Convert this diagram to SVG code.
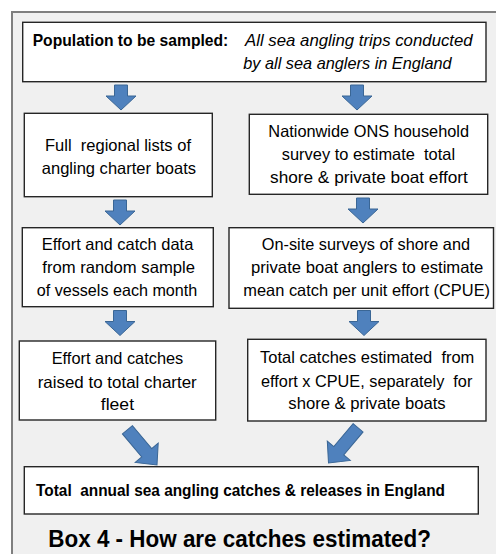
<svg xmlns="http://www.w3.org/2000/svg" xmlns:xlink="http://www.w3.org/1999/xlink" width="496" height="554" viewBox="0 0 496 554">
<style>
.box{fill:#ffffff;stroke:#262626;stroke-width:1.4}
.t{font-family:"Liberation Sans",Arial,sans-serif;font-size:16.5px;fill:#000;text-anchor:middle;white-space:pre}
.ts{font-family:"Liberation Sans",Arial,sans-serif;font-size:16.5px;fill:#000;white-space:pre}
.b{font-weight:bold}
.i{font-style:italic}
.arrow{fill:#4f81bd;stroke:#3a6695;stroke-width:1}
</style>
<defs>
<path id="adown" d="M-6.5,0 H6.5 V11 H15 L0,25 L-15,11 H-6.5 Z"/>
<path id="adiag" d="M-6.5,-46 H6.5 V-16 H15 L0,0 L-15,-16 H-6.5 Z"/>
</defs>
<rect x="0" y="0" width="496" height="554" fill="#ffffff"/>
<rect x="12" y="12" width="500" height="560" fill="#f0f0f0" stroke="#7f7f7f" stroke-width="2"/>

<g id="connectors">
<use xlink:href="#adown" class="arrow" transform="translate(121,85)"/>
<use xlink:href="#adown" class="arrow" transform="translate(357,85)"/>
<use xlink:href="#adown" class="arrow" transform="translate(120,200)"/>
<use xlink:href="#adown" class="arrow" transform="translate(363,198)"/>
<use xlink:href="#adown" class="arrow" transform="translate(120,310.5)"/>
<use xlink:href="#adown" class="arrow" transform="translate(364,310.5)"/>
<use xlink:href="#adiag" class="arrow" transform="translate(157,465) rotate(-40)"/>
<use xlink:href="#adiag" class="arrow" transform="translate(328.5,463) rotate(40)"/>
</g>

<g id="population">
<rect class="box" x="22.7" y="22.3" width="463.3" height="59.4"/>
<text class="ts b" x="32.7" y="45.7" textLength="195.6" lengthAdjust="spacingAndGlyphs">Population to be sampled:</text>
<text class="ts i" x="245" y="45.7" textLength="227.7" lengthAdjust="spacingAndGlyphs">All sea angling trips conducted</text>
<text class="ts i" x="243.3" y="69" textLength="208.4" lengthAdjust="spacingAndGlyphs">by all sea anglers in England</text>
</g>

<g id="charter-lists">
<rect class="box" x="24.3" y="113.3" width="188" height="83.4"/>
<text class="t" x="118" y="151" textLength="146" lengthAdjust="spacingAndGlyphs">Full  regional lists of</text>
<text class="t" x="118.9" y="173.5" textLength="154.3" lengthAdjust="spacingAndGlyphs">angling charter boats</text>
</g>

<g id="ons-survey">
<rect class="box" x="249.3" y="114.3" width="238.4" height="80"/>
<text class="t" x="368.7" y="137.3" textLength="200.7" lengthAdjust="spacingAndGlyphs">Nationwide ONS household</text>
<text class="t" x="368.4" y="160" textLength="173.3" lengthAdjust="spacingAndGlyphs">survey to estimate  total</text>
<text class="t" x="368.9" y="182.7" textLength="197.7" lengthAdjust="spacingAndGlyphs">shore &amp; private boat effort</text>
</g>

<g id="charter-sample">
<rect class="box" x="22.3" y="227.7" width="191" height="79"/>
<text class="t" x="117.5" y="250" textLength="151.6" lengthAdjust="spacingAndGlyphs">Effort and catch data</text>
<text class="t" x="118.7" y="273.3" textLength="152.7" lengthAdjust="spacingAndGlyphs">from random sample</text>
<text class="t" x="117" y="295.7" textLength="160.6" lengthAdjust="spacingAndGlyphs">of vessels each month</text>
</g>

<g id="onsite-survey">
<rect class="box" x="229" y="227.7" width="264.5" height="80.6"/>
<text class="t" x="365.9" y="250" textLength="208.3" lengthAdjust="spacingAndGlyphs">On-site surveys of shore and</text>
<text class="t" x="367.2" y="273.3" textLength="232.3" lengthAdjust="spacingAndGlyphs">private boat anglers to estimate</text>
<text class="t" x="366.7" y="295.7" textLength="246.7" lengthAdjust="spacingAndGlyphs">mean catch per unit effort (CPUE)</text>
</g>

<g id="charter-raised">
<rect class="box" x="19.3" y="341" width="196.4" height="79"/>
<text class="t" x="117.5" y="364.3" textLength="131.6" lengthAdjust="spacingAndGlyphs">Effort and catches</text>
<text class="t" x="117.2" y="387.7" textLength="159" lengthAdjust="spacingAndGlyphs">raised to total charter</text>
<text class="t" x="117.4" y="410" textLength="33.3" lengthAdjust="spacingAndGlyphs">fleet</text>
</g>

<g id="total-catches">
<rect class="box" x="247.7" y="339.3" width="238.3" height="81.7"/>
<text class="t" x="367.2" y="363.3" textLength="214.3" lengthAdjust="spacingAndGlyphs">Total catches estimated  from</text>
<text class="t" x="366.7" y="386.7" textLength="211.3" lengthAdjust="spacingAndGlyphs">effort x CPUE, separately  for</text>
<text class="t" x="367" y="409" textLength="157.4" lengthAdjust="spacingAndGlyphs">shore &amp; private boats</text>
</g>

<g id="annual-total">
<rect class="box" x="24.3" y="466.7" width="454" height="47.3"/>
<text class="ts b" x="36" y="496" textLength="409" lengthAdjust="spacingAndGlyphs">Total  annual sea angling catches &amp; releases in England</text>
</g>

<g id="title">
<text class="ts b" x="48.3" y="546.5" style="font-size:24px" textLength="382.7" lengthAdjust="spacingAndGlyphs">Box 4 - How are catches estimated?</text>
</g>
</svg>
